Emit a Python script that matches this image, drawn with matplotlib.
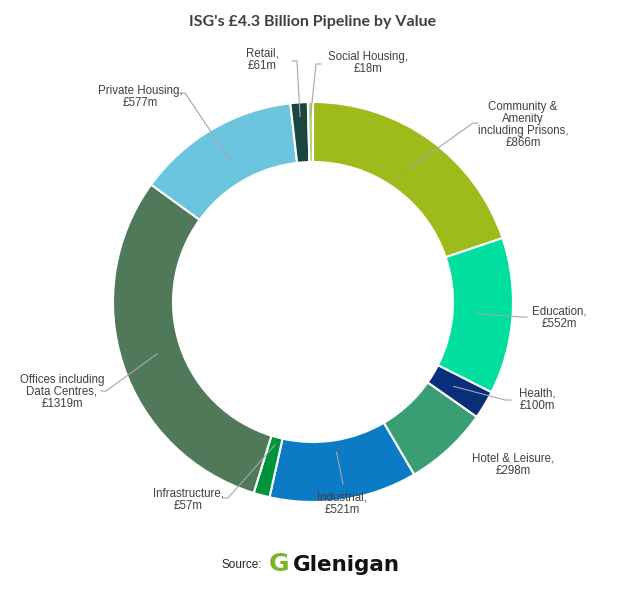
import numpy as np
import matplotlib.pyplot as plt

# Data
categories = ['Community &\nAmenity\nincluding Prisons,', 'Education,', 'Health,', 'Hotel & Leisure,',
              'Industrial,', 'Infrastructure,', 'Offices including\nData Centres,', 'Private Housing,',
              'Retail,', 'Social Housing,']
values = [866, 552, 100, 298, 521, 57, 1319, 577, 61, 18]
colors = ['#9dbb1a', '#00df9e', '#0a2f7a', '#3a9e74', '#0b7bc6', '#00943a', '#50795a', '#6cc5de',
          '#1a4540', '#b8d37e']

# label text centres (pixels from top-left), leader elbow points and elbow direction
label_pos = [(523, 125), (559, 318), (537, 400), (513, 465), (342, 504), (188, 500), (62, 392),
             (140, 97), (262, 60), (368, 63)]
line_end = [(478, 123), (527, 317), (511, 400), None, (343, 484), (223, 498), (101, 391),
            (180, 93), (292, 61), (321, 64)]
elbow = [-5, -6, -6, 0, 0, 5, 5, 5, 5, -5]
start_r = [0.82, 0.82, 0.82, 0.82, 0.76, 0.74, 0.82, 0.82, 0.93, 0.93]

W, H = 635, 600
cx, cy, R = 313, 302, 200

fig = plt.figure(figsize=(W / 100, H / 100), dpi=100)
ax = fig.add_axes([0, 0, 1, 1])

ax.pie(values, colors=colors, startangle=90, counterclock=False,
       center=(cx, H - cy), radius=R, frame=True,
       wedgeprops=dict(width=0.3 * R, edgecolor='white', linewidth=1.5))
ax.set_xlim(0, W)
ax.set_ylim(0, H)
ax.axis('off')

total = sum(values)
cum = 0
for i, v in enumerate(values):
    ang = np.deg2rad(90 - 360 * (cum + v / 2) / total)
    cum += v
    sx = cx + start_r[i] * R * np.cos(ang)
    sy = (H - cy) + start_r[i] * R * np.sin(ang)
    tx, ty = label_pos[i]
    ax.text(tx, H - ty, f'{categories[i]}\n£{v}m', ha='center', va='center', fontsize=8.3,
            color='#404040', family='Liberation Sans', linespacing=1.02)
    if line_end[i] is not None:
        ex, ey = line_end[i]
        ax.plot([sx, ex + elbow[i], ex], [sy, H - ey, H - ey], color='#a6a6a6', lw=0.8)

ax.text(W / 2 - 5, H - 22, "ISG's £4.3 Billion Pipeline by Value", ha='center', va='center',
        fontsize=11.5, fontweight='bold', color='#404040', family='Lato')

ax.text(262, H - 565, 'Source:', ha='right', va='center', fontsize=8.5, color='#222222',
        family='Liberation Sans')
ax.text(279, H - 564, 'G', ha='center', va='center', fontsize=18, fontweight='bold',
        color='#7ab52a', family='DejaVu Sans')
ax.text(293, H - 565, 'Glenigan', ha='left', va='center', fontsize=15.5, fontweight='bold',
        color='#111111', family='DejaVu Sans')

fig.savefig('out.png', dpi=100, facecolor='white')
